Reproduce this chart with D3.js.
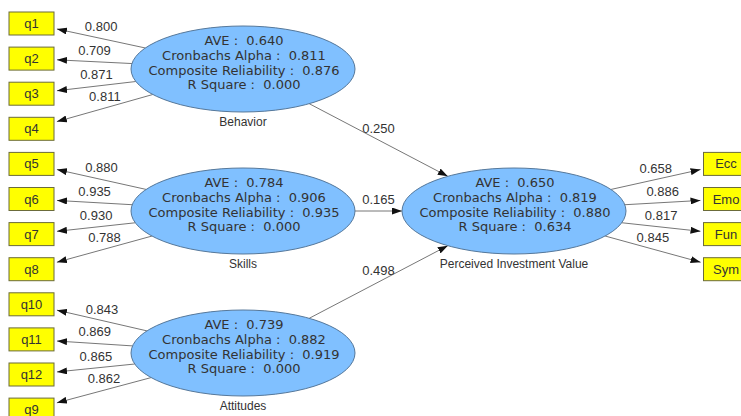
<!DOCTYPE html>
<html>
<head>
<meta charset="utf-8">
<script src="https://cdn.jsdelivr.net/npm/d3@7"></script>
<style>
  body { margin: 0; background: #fff; }
  svg { display: block; }
</style>
</head>
<body>
<svg width="741" height="416"></svg>
<script>
// constructs and their quality figures
var constructs = ["Behavior", "Skills", "Attitudes", "Perceived Investment Value"];
var constructCol = [0, 0, 0, 1];
var constructRow = [0, 1, 2, 1];
var ave = [0.640, 0.784, 0.739, 0.650];
var alpha = [0.811, 0.906, 0.882, 0.819];
var compRel = [0.876, 0.935, 0.919, 0.880];
var rSquare = [0.000, 0.000, 0.000, 0.634];

// indicators (outer model)
var indicators = [
    ["q1", "q2", "q3", "q4"],
    ["q5", "q6", "q7", "q8"],
    ["q10", "q11", "q12", "q9"],
    ["Ecc", "Emo", "Fun", "Sym"]
];
var loadings = [
    [0.800, 0.709, 0.871, 0.811],
    [0.880, 0.935, 0.930, 0.788],
    [0.843, 0.869, 0.865, 0.862],
    [0.658, 0.886, 0.817, 0.845]
];

// inner model paths
var pathFrom = ["Behavior", "Skills", "Attitudes"];
var pathTo = ["Perceived Investment Value", "Perceived Investment Value", "Perceived Investment Value"];
var pathCoef = [0.250, 0.165, 0.498];

var svg = d3.select("svg");
var rx = 112, ry = 43;
var boxW = 45, boxH = 23;
var fmt = d3.format(".3f");

// scales
var scX = d3.scaleLinear().domain([0, 1]).range([243, 514]);
var scY = d3.scaleLinear().domain([0, 2]).range([69, 353]);
var scRow = d3.scaleLinear().domain([0, 11]).range([23.5, 409.6]);
var scBoxX = d3.scaleLinear().domain([0, 1]).range([31.5, 726]);

svg.append("defs").append("marker")
    .attr("id", "arr")
    .attr("viewBox", "0 0 10 7")
    .attr("refX", 10).attr("refY", 3.5)
    .attr("markerWidth", 10).attr("markerHeight", 7)
    .attr("markerUnits", "userSpaceOnUse")
    .attr("orient", "auto")
    .append("path")
    .attr("d", "M0,0 L10,3.5 L0,7 Z")
    .attr("fill", "#111");

var nodes = constructs.map(function(name, i){
    return {name: name, i: i, cx: scX(constructCol[i]), cy: scY(constructRow[i])};
});
var byName = {};
nodes.forEach(function(n){ byName[n.name] = n; });

// point where a ray from the ellipse centre leaves the ellipse
var ellipseExit = function(n, dx, dy){
    var s = 1 / Math.sqrt((dx / rx) * (dx / rx) + (dy / ry) * (dy / ry));
    return [n.cx + dx * s, n.cy + dy * s];
};

var edges = [];

// outer model arrows: construct -> indicator box
nodes.forEach(function(n){
    indicators[n.i].forEach(function(ind, j){
        var bx = scBoxX(constructCol[n.i]);
        var by = scRow(constructRow[n.i] * 4 + j);
        var dx = bx - n.cx, dy = by - n.cy;
        var len = Math.sqrt(dx * dx + dy * dy);
        var s = Math.min((boxW / 2) / Math.abs(dx), (boxH / 2) / Math.abs(dy));
        var a = ellipseExit(n, dx, dy);
        var b = [bx - dx * s - dx / len * 3, by - dy * s - dy / len * 3];
        edges.push({a: a, b: b, label: fmt(loadings[n.i][j])});
        n.boxes = n.boxes || [];
        n.boxes.push({name: ind, x: bx, y: by});
    });
});

// inner model arrows
pathFrom.forEach(function(f, k){
    var s = byName[f], t = byName[pathTo[k]];
    var dx = t.cx - s.cx, dy = t.cy - s.cy;
    var a = ellipseExit(s, dx, dy);
    var b = ellipseExit(t, -dx, -dy);
    edges.push({a: a, b: b, label: fmt(pathCoef[k])});
});

var gEdges = svg.append("g");
gEdges.selectAll("line")
    .data(edges).enter()
    .append("line")
    .attr("x1", d => d.a[0]).attr("y1", d => d.a[1])
    .attr("x2", d => d.b[0]).attr("y2", d => d.b[1])
    .attr("stroke", "#777")
    .attr("stroke-width", 1)
    .attr("marker-end", "url(#arr)");

gEdges.selectAll("text")
    .data(edges).enter()
    .append("text")
    .attr("x", d => (d.a[0] + d.b[0]) / 2)
    .attr("y", d => (d.a[1] + d.b[1]) / 2 - 11.5)
    .attr("text-anchor", "middle")
    .attr("dominant-baseline", "central")
    .attr("font-family", "'Liberation Sans', Arial, sans-serif")
    .attr("font-size", 13)
    .attr("fill", "#333")
    .text(d => d.label);

// indicator boxes
var boxes = [];
nodes.forEach(function(n){ boxes = boxes.concat(n.boxes); });
var gBox = svg.append("g");
gBox.selectAll("rect")
    .data(boxes).enter()
    .append("rect")
    .attr("x", d => d.x - boxW / 2)
    .attr("y", d => d.y - boxH / 2)
    .attr("width", boxW)
    .attr("height", boxH)
    .attr("fill", "#ffff00")
    .attr("stroke", "#6b6b3a")
    .attr("stroke-width", 1);
gBox.selectAll("text")
    .data(boxes).enter()
    .append("text")
    .attr("x", d => d.x)
    .attr("y", d => d.y)
    .attr("text-anchor", "middle")
    .attr("dominant-baseline", "central")
    .attr("font-family", "'Liberation Sans', Arial, sans-serif")
    .attr("font-size", 13)
    .attr("fill", "#333")
    .text(d => d.name);

// construct ellipses
var gNode = svg.append("g").selectAll("g")
    .data(nodes).enter()
    .append("g");
gNode.append("ellipse")
    .attr("cx", d => d.cx).attr("cy", d => d.cy)
    .attr("rx", rx).attr("ry", ry)
    .attr("fill", "#80c0ff")
    .attr("stroke", "#56789a")
    .attr("stroke-width", 1);

gNode.each(function(d){
    var lines = [
        "AVE :  " + fmt(ave[d.i]),
        "Cronbachs Alpha :  " + fmt(alpha[d.i]),
        "Composite Reliability :  " + fmt(compRel[d.i]),
        "R Square :  " + fmt(rSquare[d.i])
    ];
    d3.select(this).selectAll("text.stat")
        .data(lines).enter()
        .append("text")
        .attr("class", "stat")
        .attr("x", d.cx + 1)
        .attr("y", (t, k) => d.cy - 28.5 + k * 14.8)
        .attr("text-anchor", "middle")
        .attr("dominant-baseline", "central")
        .attr("font-family", "'DejaVu Sans', Verdana, sans-serif")
        .attr("font-size", 13)
        .attr("fill", "#333")
        .style("white-space", "pre")
        .attr("xml:space", "preserve")
        .text(t => t);
});

gNode.append("text")
    .attr("x", d => d.cx)
    .attr("y", d => d.cy + 53)
    .attr("text-anchor", "middle")
    .attr("dominant-baseline", "central")
    .attr("font-family", "'Liberation Sans', Arial, sans-serif")
    .attr("font-size", 12)
    .attr("fill", "#333")
    .text(d => d.name);
</script>
</body>
</html>
